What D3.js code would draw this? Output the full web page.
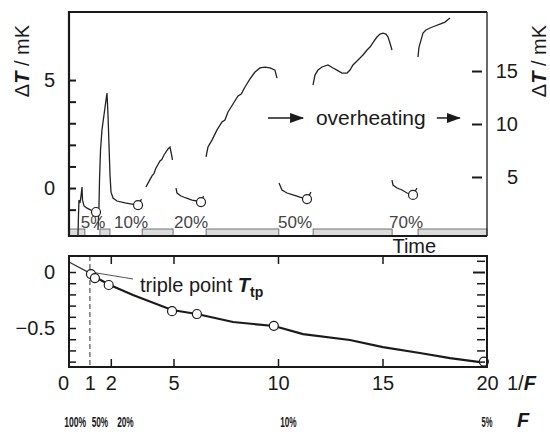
<!DOCTYPE html>
<html>
<head>
<meta charset="utf-8">
<script src="https://cdn.jsdelivr.net/npm/d3@7"></script>
<style>
body { margin: 0; background: #fff; }
svg { font-family: "Liberation Sans", Arial, Helvetica, sans-serif; }
</style>
</head>
<body>
<script>
// ---- top panel: temperature record, time in arbitrary units (0..100) ----
var heatBars = [[0, 3.8], [7.4, 9.8], [17.5, 24.9], [32.8, 50.2], [58.4, 77.3], [83.5, 100]];

// curves read on the left axis (mK)
var curveA = [[2.15, -2.18], [2.27, -1.25], [2.39, -0.56], [2.63, -0.69], [2.87, -0.37], [3.11, 0.05],
    [3.23, -0.56], [3.59, -0.83], [4.31, -0.93], [5.26, -1.02], [6.46, -1.11]];
var curveB = [[6.94, -1.94], [7.18, -0.79], [7.30, 0.37], [7.54, 1.76], [7.89, 2.69], [8.37, 3.38],
    [8.85, 4.07], [9.09, 4.40], [9.33, 3.38], [9.57, 1.99], [9.81, 0.60], [10.05, -0.19], [10.53, -0.46],
    [11.48, -0.60], [13.40, -0.69], [15.07, -0.74], [16.51, -0.79], [17.34, -0.51]];
var curveC = [[18.42, 0.05], [18.90, 0.23], [19.86, 0.56], [20.30, 0.66], [20.81, 0.93], [21.77, 1.25],
    [22.20, 1.32], [22.73, 1.53], [23.68, 1.81], [24.16, 1.90], [24.40, 1.67], [24.76, 1.30]];
var curveD = [[25.60, 0.0], [25.84, -0.23], [26.79, -0.37], [27.99, -0.46], [29.43, -0.56], [30.62, -0.60],
    [31.58, -0.65], [32.18, -0.37]];
var curveE = [[32.78, 1.44], [33.25, 1.90], [34.21, 2.22], [35.41, 2.69], [36.60, 3.06], [37.30, 3.15],
    [38.04, 3.52], [39.23, 3.89], [40.43, 4.26], [41.20, 4.35], [42.11, 4.68], [43.30, 5.05], [44.50, 5.37],
    [45.69, 5.56], [46.89, 5.60], [48.09, 5.56], [49.28, 5.46], [49.76, 5.09]];
var curveF = [[50.24, 0.23], [50.96, -0.09], [52.15, -0.23], [53.59, -0.32], [55.26, -0.42], [56.94, -0.51],
    [57.89, -0.19]];
var curveH = [[77.27, 0.37], [77.51, 0.14], [78.47, 0.0], [79.67, -0.09], [80.86, -0.23], [82.30, -0.32],
    [83.25, 0.0]];

// overheating curves read on the right axis (mK)
var curveG = [[58.37, 13.68], [58.85, 14.62], [59.57, 15.09], [60.53, 15.38], [61.96, 15.57], [63.16, 15.28],
    [64.11, 15.09], [65.31, 14.81], [66.51, 14.81], [67.22, 15.09], [67.94, 15.57], [69.14, 16.04],
    [70.33, 16.51], [71.29, 16.98], [72.01, 17.26], [72.97, 17.83], [73.68, 18.21], [74.40, 18.49],
    [75.12, 18.58], [75.84, 18.49], [76.32, 18.21], [76.79, 17.64], [77.27, 16.98]];
var curveI = [[83.49, 16.32], [83.73, 17.26], [84.21, 17.92], [84.69, 18.58], [85.41, 18.87], [86.36, 19.06],
    [87.56, 19.25], [88.76, 19.43], [89.95, 19.62], [91.15, 20.0]];

var plateauPoints = [[6.46, -1.11], [16.51, -0.79], [31.58, -0.65], [56.94, -0.51], [82.30, -0.32]];
var pctLabels = ['5%', '10%', '20%', '50%', '70%'];
var pctLabelAt = [5.74, 14.83, 29.19, 54.07, 80.62];

var leftTicks = [-1, 0, 1, 2, 3, 4, 5];
var rightTicks = [5, 10, 15];
var arrowLevel = 10.57;           // right axis value of the "overheating" arrows
var arrows = [[47.6, 56.0], [88.0, 93.5]];

// ---- bottom panel: melting temperature vs 1/F ----
var invF = [1.05, 1.24, 1.9, 4.93, 6.12, 9.8, 19.85];
var dTtp = [-0.018, -0.054, -0.116, -0.35, -0.375, -0.48, -0.80];
var fitX = [1.15, 1.24, 1.96, 3.06, 4.93, 6.12, 7.85, 9.81, 11.20, 13.44, 15.02, 16.79, 18.23, 19.67, 19.86];
var fitY = [-0.036, -0.045, -0.116, -0.205, -0.339, -0.375, -0.446, -0.482, -0.554, -0.607, -0.670, -0.723,
    -0.768, -0.804, -0.80];
var extrapX = [0, 1.0];
var extrapY = [0.09, -0.01];
var xTicks = [2, 5, 10, 15];
var xLabels = [0, 1, 2, 5, 10, 15, 20];
var fLabels = ['100%', '50%', '20%', '10%', '5%'];
var fLabelAt = [0.30, 1.48, 2.70, 10.5, 20];
var yTicks = [0, -0.1, -0.2, -0.3, -0.4, -0.5, -0.6, -0.7, -0.8];
var yTicksRight = [0.1, 0, -0.1, -0.2, -0.3, -0.4, -0.5, -0.6, -0.7, -0.8];

var W = 550, H = 434,
    L = 69, R = 487,
    top1 = 12, bot1 = 236,
    top2 = 256, bot2 = 367,
    ink = '#1a1a1a';

var svg = d3.select('body').append('svg')
    .attr('width', W)
    .attr('height', H);

var defs = svg.append('defs');
defs.append('marker')
    .attr('id', 'head')
    .attr('markerUnits', 'userSpaceOnUse')
    .attr('markerWidth', 14)
    .attr('markerHeight', 10)
    .attr('refX', 13)
    .attr('refY', 5)
    .attr('orient', 'auto')
    .append('path')
    .attr('d', 'M0,0L14,5L0,10z')
    .attr('fill', ink);

// ================= top panel =================
var tScale = d3.scaleLinear().domain([0, 100]).range([L, R]),
    vScale = d3.scaleLinear().domain([-2.22, 8.15]).range([bot1, top1]),
    rScale = d3.scaleLinear().domain([-0.57, 20.57]).range([bot1, top1]);

var upper = svg.append('g');

upper.selectAll('.heat')
    .data(heatBars)
    .enter()
    .append('rect')
    .attr('class', 'heat')
    .attr('x', function(d) { return tScale(d[0]); })
    .attr('width', function(d) { return tScale(d[1]) - tScale(d[0]); })
    .attr('y', bot1 - 7)
    .attr('height', 7)
    .attr('fill', '#dcdcdc')
    .attr('stroke', '#555')
    .attr('stroke-width', 0.8);

var lineL = d3.line()
    .x(function(d) { return tScale(d[0]); })
    .y(function(d) { return vScale(d[1]); });
var lineR = d3.line()
    .x(function(d) { return tScale(d[0]); })
    .y(function(d) { return rScale(d[1]); });

upper.selectAll('.cl')
    .data([curveA, curveB, curveC, curveD, curveE, curveF, curveH])
    .enter()
    .append('path')
    .attr('class', 'cl')
    .attr('d', lineL)
    .attr('fill', 'none')
    .attr('stroke', '#222')
    .attr('stroke-width', 1.3);

upper.selectAll('.cr')
    .data([curveG, curveI])
    .enter()
    .append('path')
    .attr('class', 'cr')
    .attr('d', lineR)
    .attr('fill', 'none')
    .attr('stroke', '#222')
    .attr('stroke-width', 1.3);

upper.selectAll('.plat')
    .data(plateauPoints)
    .enter()
    .append('circle')
    .attr('cx', function(d) { return tScale(d[0]); })
    .attr('cy', function(d) { return vScale(d[1]); })
    .attr('r', 4.5)
    .attr('fill', '#fff')
    .attr('stroke', '#222')
    .attr('stroke-width', 1.2);

upper.selectAll('.pct')
    .data(pctLabels)
    .enter()
    .append('text')
    .attr('x', function(d, i) { return tScale(pctLabelAt[i]); })
    .attr('y', bot1 - 8)
    .attr('text-anchor', 'middle')
    .attr('font-size', 17)
    .attr('fill', '#444')
    .text(function(d) { return d; });

// overheating arrows + text
upper.selectAll('.arrow')
    .data(arrows)
    .enter()
    .append('line')
    .attr('x1', function(d) { return tScale(d[0]); })
    .attr('x2', function(d) { return tScale(d[1]); })
    .attr('y1', rScale(arrowLevel))
    .attr('y2', rScale(arrowLevel))
    .attr('stroke', ink)
    .attr('stroke-width', 1.5)
    .attr('marker-end', 'url(#head)');

upper.append('text')
    .attr('x', tScale(72.2))
    .attr('y', rScale(arrowLevel) + 7)
    .attr('text-anchor', 'middle')
    .attr('font-size', 21)
    .attr('fill', ink)
    .text('overheating');

// axes
var yl = upper.append('g')
    .attr('transform', 'translate(' + L + ',0)')
    .call(d3.axisLeft(vScale)
        .tickValues(leftTicks)
        .tickSize(-7)
        .tickPadding(14)
        .tickFormat(function(d) { return (d === 0 || d === 5) ? d : ''; }));
yl.select('.domain').remove();
yl.selectAll('line').attr('stroke', ink).attr('stroke-width', 2);
yl.selectAll('text').attr('font-size', 20).attr('fill', ink).attr('font-family', null);

var yr = upper.append('g')
    .attr('transform', 'translate(482,0)')
    .call(d3.axisRight(rScale)
        .tickValues(rightTicks)
        .tickSize(-10));
yr.select('.domain').remove();
yr.selectAll('line').attr('stroke', ink).attr('stroke-width', 2);
yr.selectAll('text')
    .attr('x', 36)
    .attr('text-anchor', 'end')
    .attr('font-size', 20)
    .attr('fill', ink)
    .attr('font-family', null);

// frame
upper.append('path')
    .attr('d', 'M' + R + ',' + top1 + 'H' + L + 'V' + bot1 + 'H' + R)
    .attr('fill', 'none')
    .attr('stroke', ink)
    .attr('stroke-width', 2.2);
upper.append('line')
    .attr('x1', R).attr('x2', R)
    .attr('y1', top1).attr('y2', bot1)
    .attr('stroke', ink)
    .attr('stroke-width', 1.3);

// axis titles
function dTtitle(g, x) {
    var t = g.append('text')
        .attr('transform', 'translate(' + x + ',61) rotate(-90)')
        .attr('text-anchor', 'middle')
        .attr('font-size', 20)
        .attr('fill', ink);
    t.append('tspan').text('\u0394');
    t.append('tspan').attr('font-weight', 'bold').attr('font-style', 'italic').text('T');
    t.append('tspan').text(' / mK');
}
dTtitle(svg, 29);
dTtitle(svg, 546);

svg.append('text')
    .attr('x', tScale(82.6))
    .attr('y', 253)
    .attr('text-anchor', 'middle')
    .attr('font-size', 20)
    .attr('fill', ink)
    .text('Time');

// ================= bottom panel =================
var xScale = d3.scaleLinear().domain([0, 20]).range([L, R]),
    yScale = d3.scaleLinear().domain([-0.848, 0.143]).range([bot2, top2]);

var lower = svg.append('g');

lower.append('line')
    .attr('x1', xScale(1)).attr('x2', xScale(1))
    .attr('y1', top2).attr('y2', bot2)
    .attr('stroke', '#555')
    .attr('stroke-width', 1.2)
    .attr('stroke-dasharray', '5,3');

var xyLine = d3.line()
    .x(function(d) { return xScale(d[0]); })
    .y(function(d) { return yScale(d[1]); });

lower.append('path')
    .datum(extrapX.map(function(x, i) { return [x, extrapY[i]]; }))
    .attr('d', xyLine)
    .attr('fill', 'none')
    .attr('stroke', '#333')
    .attr('stroke-width', 1.2);

lower.append('path')
    .datum(fitX.map(function(x, i) { return [x, fitY[i]]; }))
    .attr('d', xyLine)
    .attr('fill', 'none')
    .attr('stroke', ink)
    .attr('stroke-width', 2.2);

// leader line to label
lower.append('line')
    .attr('x1', xScale(invF[0])).attr('y1', yScale(dTtp[0]) - 2)
    .attr('x2', 133).attr('y2', 279)
    .attr('stroke', '#555')
    .attr('stroke-width', 1);

lower.selectAll('.pt')
    .data(invF)
    .enter()
    .append('circle')
    .attr('cx', function(d) { return xScale(d); })
    .attr('cy', function(d, i) { return yScale(dTtp[i]); })
    .attr('r', 4.5)
    .attr('fill', '#fff')
    .attr('stroke', ink)
    .attr('stroke-width', 1.2);

var tp = lower.append('text')
    .attr('x', 140)
    .attr('y', 292)
    .attr('font-size', 20)
    .attr('fill', ink);
tp.append('tspan').text('triple point ');
tp.append('tspan').attr('font-weight', 'bold').attr('font-style', 'italic').text('T');
tp.append('tspan').attr('font-weight', 'bold').attr('font-size', 14).attr('dy', 5).text('tp');

// axes
var bl = lower.append('g')
    .attr('transform', 'translate(' + L + ',0)')
    .call(d3.axisLeft(yScale)
        .tickValues(yTicks)
        .tickSize(-7)
        .tickPadding(14)
        .tickFormat(function(d) { return d === 0 ? '0' : (Math.abs(d + 0.5) < 1e-9 ? '\u22120.5' : ''); }));
bl.select('.domain').remove();
bl.selectAll('line').attr('stroke', ink).attr('stroke-width', 1.5);
bl.selectAll('text').attr('font-size', 20).attr('fill', ink).attr('font-family', null);

var br = lower.append('g')
    .attr('transform', 'translate(485,0)')
    .call(d3.axisRight(yScale)
        .tickValues(yTicksRight)
        .tickSize(-8)
        .tickFormat(''));
br.select('.domain').remove();
br.selectAll('line')
    .attr('stroke', ink)
    .attr('stroke-width', function(d) { return d === 0 ? 2 : 1.5; })
    .attr('x2', function(d) { return d === 0 ? -12 : -8; });

var bt = lower.append('g')
    .attr('transform', 'translate(0,' + top2 + ')')
    .call(d3.axisBottom(xScale).tickValues(xTicks).tickSize(8).tickFormat(''));
bt.select('.domain').remove();
bt.selectAll('line').attr('stroke', ink).attr('stroke-width', 1.5);

var bb = lower.append('g')
    .attr('transform', 'translate(0,' + bot2 + ')')
    .call(d3.axisTop(xScale).tickValues(xTicks).tickSize(8).tickFormat(''));
bb.select('.domain').remove();
bb.selectAll('line').attr('stroke', ink).attr('stroke-width', 1.5);

var bx = lower.append('g')
    .attr('transform', 'translate(0,' + bot2 + ')')
    .call(d3.axisBottom(xScale).tickValues(xLabels).tickSize(0).tickPadding(9));
bx.select('.domain').remove();
bx.selectAll('text')
    .attr('font-size', 20)
    .attr('fill', ink)
    .attr('font-family', null)
    .attr('dx', function(d) { return d === 0 ? -6 : 0; });

lower.append('rect')
    .attr('x', L).attr('y', top2)
    .attr('width', R - L).attr('height', bot2 - top2)
    .attr('fill', 'none')
    .attr('stroke', ink)
    .attr('stroke-width', 2);

var invLbl = lower.append('text')
    .attr('x', 507)
    .attr('y', 390)
    .attr('font-size', 20)
    .attr('fill', ink);
invLbl.append('tspan').text('1/');
invLbl.append('tspan').attr('font-weight', 'bold').attr('font-style', 'italic').text('F');

lower.selectAll('.flbl')
    .data(fLabels)
    .enter()
    .append('text')
    .attr('x', function(d, i) { return xScale(fLabelAt[i]); })
    .attr('y', 427)
    .attr('text-anchor', 'middle')
    .attr('font-size', 15)
    .attr('font-weight', 'bold')
    .attr('fill', ink)
    .attr('textLength', function(d) { return d.length * 5.5; })
    .attr('lengthAdjust', 'spacingAndGlyphs')
    .text(function(d) { return d; });

lower.append('text')
    .attr('x', 517)
    .attr('y', 427)
    .attr('font-size', 20)
    .attr('font-weight', 'bold')
    .attr('font-style', 'italic')
    .attr('fill', ink)
    .text('F');
</script>
</body>
</html>
